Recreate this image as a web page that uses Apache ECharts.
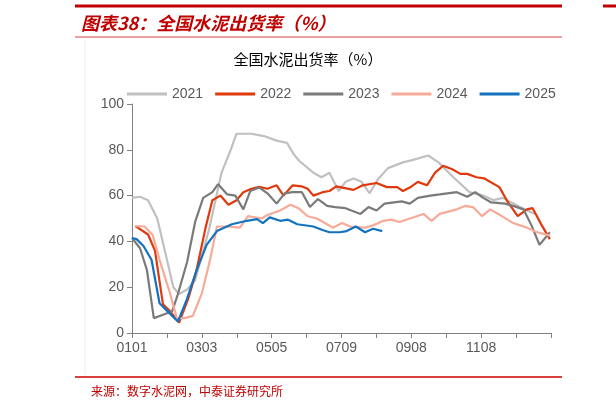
<!DOCTYPE html>
<html>
<head>
<meta charset="utf-8">
<script src="https://cdn.jsdelivr.net/npm/echarts@6/dist/echarts.min.js"></script>
<style>
html,body{margin:0;padding:0;background:#fff}
#main{width:616px;height:407px}
</style>
</head>
<body>
<div id="main"></div>
<script>
// day of year (0 = Jan 1) and shipment rate per year
var xLabels = ['0101', '', '0303', '', '0505', '', '0709', '', '0908', '', '1108', '', ''];

var days2021 = [0, 7, 14, 22, 30, 36, 41, 48, 55, 67, 78, 86, 91, 104, 115, 126, 135, 141, 146, 158, 165, 172, 180, 186, 193, 200, 207, 214, 223, 236, 244, 258, 267, 280, 294, 306, 315, 323, 338, 351];
var vals2021 = [59, 59.5, 58, 50, 33, 20, 17, 19, 23, 45, 70, 80, 87, 87, 86, 84, 83, 78, 75, 70, 68, 70, 62, 66, 67.5, 66, 61, 67, 72, 74.5, 75.5, 77.5, 74.5, 68, 61.5, 60, 58, 59, 55, 52];

var days2022 = [3, 14, 20, 27, 33, 41, 49, 56, 64, 70, 77, 84, 91, 97, 104, 111, 118, 126, 132, 140, 148, 153, 158, 166, 172, 178, 193, 201, 213, 222, 231, 236, 242, 249, 257, 264, 271, 279, 286, 292, 300, 307, 320, 327, 336, 344, 349, 357, 364];
var vals2022 = [46.7, 43, 36, 12.5, 9.6, 4.5, 15, 27, 45.8, 58, 60, 56, 58, 61.5, 63, 63.8, 63, 64.5, 60, 64.5, 64, 63, 60, 61.5, 62, 64, 62.5, 64.5, 65.5, 63.7, 63.7, 62, 63.5, 66, 64.5, 70, 73, 71.5, 69.5, 69.5, 68, 67.5, 63.7, 57.5, 51, 54, 54.5, 47, 41];

var days2023 = [0, 7, 13, 19, 27, 35, 40, 48, 55, 62, 70, 75, 83, 90, 97, 103, 111, 118, 126, 133, 140, 148, 155, 162, 170, 177, 186, 199, 206, 213, 220, 235, 242, 249, 260, 268, 283, 292, 299, 306, 313, 325, 332, 341, 348, 355, 364];
var vals2023 = [41.5, 37, 27.5, 6.5, 8, 9.5, 17, 31, 48.5, 59, 61.5, 65, 60.5, 60, 54, 62, 63.5, 61, 56.5, 61, 61.5, 61.5, 55, 58.5, 55.5, 55, 54.5, 52, 55, 53.5, 56.5, 57.5, 56.5, 59, 60, 60.5, 61.5, 59.5, 61.5, 59, 57, 56.5, 55.5, 54, 47, 38.5, 44];

var days2024 = [3, 11, 18, 24, 33, 39, 46, 53, 61, 68, 74, 83, 94, 101, 113, 118, 129, 138, 145, 153, 161, 168, 175, 183, 190, 203, 210, 219, 226, 233, 248, 254, 261, 268, 283, 290, 297, 305, 312, 319, 332, 344, 353, 364];
var vals2024 = [46.7, 46.5, 42.8, 32, 17.5, 6.5, 6.5, 7.5, 17.5, 32, 46.5, 46.5, 46, 51, 50, 51.5, 53.5, 56, 54.5, 51, 50, 48, 46, 48, 46.5, 46, 47, 49, 49.5, 48.5, 51, 52, 49, 52, 54, 55.5, 55, 51, 54, 52, 48, 46, 44, 42.5];

var days2025 = [0, 4, 10, 17, 24, 30, 40, 48, 56, 65, 74, 87, 100, 109, 114, 120, 129, 136, 144, 158, 166, 172, 181, 187, 195, 203, 210, 218];
var vals2025 = [41.5, 41, 38, 32, 13, 10, 5, 15, 27, 38.5, 44.5, 47.5, 49, 49.7, 48, 50.5, 49, 49.5, 47.5, 46.5, 45, 44, 44, 44.5, 46.5, 44, 45.5, 44.5];

function pairs(d, v) {
  return d.map(function (x, i) { return [x, v[i]]; });
}

var seriesDefs = [
  { name: '2021', color: '#c0c0c0', d: days2021, v: vals2021 },
  { name: '2022', color: '#e03a0c', d: days2022, v: vals2022 },
  { name: '2023', color: '#7a7a7a', d: days2023, v: vals2023 },
  { name: '2024', color: '#f8aa98', d: days2024, v: vals2024 },
  { name: '2025', color: '#1273c0', d: days2025, v: vals2025 }
];

var chart = echarts.init(document.getElementById('main'));
chart.setOption({
  animation: false,
  title: [{
    text: '图表38：全国水泥出货率（%）',
    left: 76, top: 9,
    textStyle: { color: '#c00000', fontSize: 18, fontStyle: 'italic', fontWeight: 'bold', fontFamily: 'Noto Sans CJK SC' }
  }, {
    text: '全国水泥出货率（%）',
    left: 'center', top: 47,
    textStyle: { color: '#000', fontSize: 15, fontWeight: 'normal', fontFamily: 'Noto Sans CJK SC' }
  }, {
    text: '来源：数字水泥网，中泰证券研究所',
    left: 86, top: 380,
    textStyle: { color: '#c00000', fontSize: 12, fontWeight: 'normal', fontFamily: 'Noto Sans CJK SC' }
  }],
  graphic: [
    { type: 'line', shape: { x1: 75, y1: 6, x2: 562, y2: 6 }, style: { stroke: '#c00000', lineWidth: 3 } },
    { type: 'line', shape: { x1: 603, y1: 6, x2: 616, y2: 6 }, style: { stroke: '#c00000', lineWidth: 3 } },
    { type: 'line', shape: { x1: 75, y1: 37, x2: 562, y2: 37 }, style: { stroke: '#d84040', lineWidth: 1 } },
    { type: 'line', shape: { x1: 75, y1: 377, x2: 562, y2: 377 }, style: { stroke: '#d84040', lineWidth: 2 } },
    { type: 'line', shape: { x1: 85, y1: 40, x2: 85, y2: 375 }, style: { stroke: '#eeeeee', lineWidth: 1 } }
  ],
  legend: {
    top: 82, left: 122,
    itemWidth: 40, itemHeight: 3, itemGap: 12,
    icon: 'rect',
    textStyle: { color: '#595959', fontSize: 14, fontFamily: 'Liberation Sans' },
    data: seriesDefs.map(function (s) { return s.name; })
  },
  grid: { left: 132, right: 65, top: 104, bottom: 74 },
  xAxis: {
    type: 'value', min: 0, max: 365, interval: 365 / 12,
    axisLine: { lineStyle: { color: '#808080' } },
    axisTick: { show: true, length: 5, lineStyle: { color: '#808080' } },
    splitLine: { show: false },
    axisLabel: {
      color: '#595959', fontSize: 14, fontFamily: 'Liberation Sans', margin: 8,
      formatter: function (val) { return xLabels[Math.round(val / (365 / 12))] || ''; }
    }
  },
  yAxis: {
    type: 'value', min: 0, max: 100, interval: 20,
    axisLine: { show: true, lineStyle: { color: '#808080' } },
    axisTick: { show: true, length: 5, lineStyle: { color: '#808080' } },
    splitLine: { show: false },
    axisLabel: { color: '#595959', fontSize: 14, fontFamily: 'Liberation Sans' }
  },
  series: seriesDefs.map(function (s) {
    return {
      name: s.name, type: 'line', symbol: 'none',
      data: pairs(s.d, s.v),
      itemStyle: { color: s.color },
      lineStyle: { color: s.color, width: 2.2 }
    };
  })
});
</script>
</body>
</html>
